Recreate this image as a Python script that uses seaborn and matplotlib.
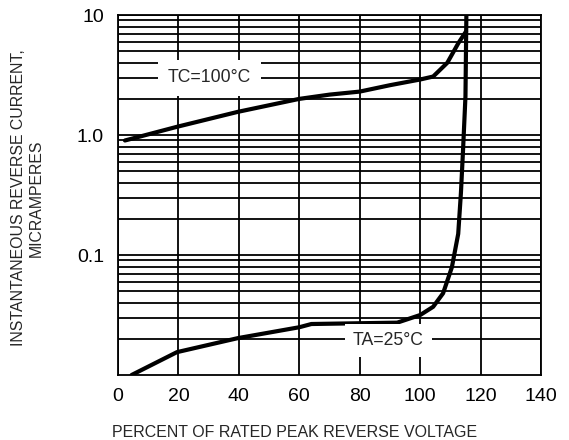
import matplotlib
matplotlib.use("Agg")
import matplotlib.pyplot as plt
import matplotlib.ticker as mticker
import seaborn as sns
import pandas as pd

# Data
tc_x = [2.3, 19.5, 39.7, 60, 70, 80, 90, 100, 104.3, 109, 112.6, 115.2]
tc_y = [0.90, 1.17, 1.56, 2.0, 2.17, 2.3, 2.6, 2.9, 3.07, 4.0, 5.8, 7.3]

ta_x = [4.5, 19.5, 39.7, 60, 64, 80, 92.4, 100, 104.3, 107.6, 110.5, 112.6, 113.5, 114.2, 115.0, 115.3]
ta_y = [0.010, 0.0155, 0.0203, 0.025, 0.0266, 0.027, 0.0273, 0.0316, 0.037, 0.048, 0.079, 0.15, 0.33, 0.75, 2.1, 10.0]

x_ticks = [0, 20, 40, 60, 80, 100, 120, 140]
y_ticks = [0.1, 1.0, 10]
y_tick_labels = ["0.1", "1.0", "10"]

sns.set_style("white")
plt.rcParams["font.family"] = ["Liberation Sans", "DejaVu Sans"]

fig = plt.figure(figsize=(5.69, 4.40), dpi=100)
ax = fig.add_axes([118 / 569, 1 - 375 / 440, (541 - 118) / 569, (375 - 15) / 440])

df_tc = pd.DataFrame({"x": tc_x, "y": tc_y})
df_ta = pd.DataFrame({"x": ta_x, "y": ta_y})
sns.lineplot(data=df_tc, x="x", y="y", ax=ax, color="black", lw=3.0,
             sort=False, estimator=None, zorder=5)
sns.lineplot(data=df_ta, x="x", y="y", ax=ax, color="black", lw=3.0,
             sort=False, estimator=None, zorder=5)

ax.set_yscale("log")
ax.set_xlim(0, 140)
ax.set_ylim(0.01, 10)
ax.set_xticks(x_ticks)
ax.set_xticklabels([str(v) for v in x_ticks])
ax.set_yticks(y_ticks)
ax.set_yticklabels(y_tick_labels)
ax.yaxis.set_minor_locator(mticker.LogLocator(base=10, subs=range(2, 10)))
ax.yaxis.set_minor_formatter(mticker.NullFormatter())

ax.grid(True, which="both", axis="y", color="black", lw=1.3)
ax.grid(True, which="major", axis="x", color="black", lw=1.3)
ax.set_axisbelow(True)
ax.tick_params(axis="both", which="both", length=0, labelsize=14, colors="black")
ax.tick_params(axis="x", pad=9)
ax.tick_params(axis="y", pad=10)
for s in ax.spines.values():
    s.set_color("black")
    s.set_linewidth(1.3)

ax.text(30.3, 3.0, "TC=100°C", fontsize=12.7, ha="center", va="center", zorder=6,
        bbox=dict(facecolor="white", edgecolor="none", boxstyle="square,pad=0.55"))
ax.text(89.5, 0.0195, "TA=25°C", fontsize=12.7, ha="center", va="center", zorder=6,
        bbox=dict(facecolor="white", edgecolor="none", boxstyle="square,pad=0.45"))

ax.set_xlabel("PERCENT OF RATED PEAK REVERSE VOLTAGE", fontsize=11.5)
ax.xaxis.set_label_coords((295 - 118) / 423, -(425 - 375) / 360)
ax.set_ylabel("INSTANTANEOUS REVERSE CURRENT,\nMICRAMPERES", fontsize=11.4,
              linespacing=1.25)
ax.yaxis.set_label_coords((44 - 118) / 423, (375 - 198) / 360)

fig.savefig("out.png", dpi=100)
